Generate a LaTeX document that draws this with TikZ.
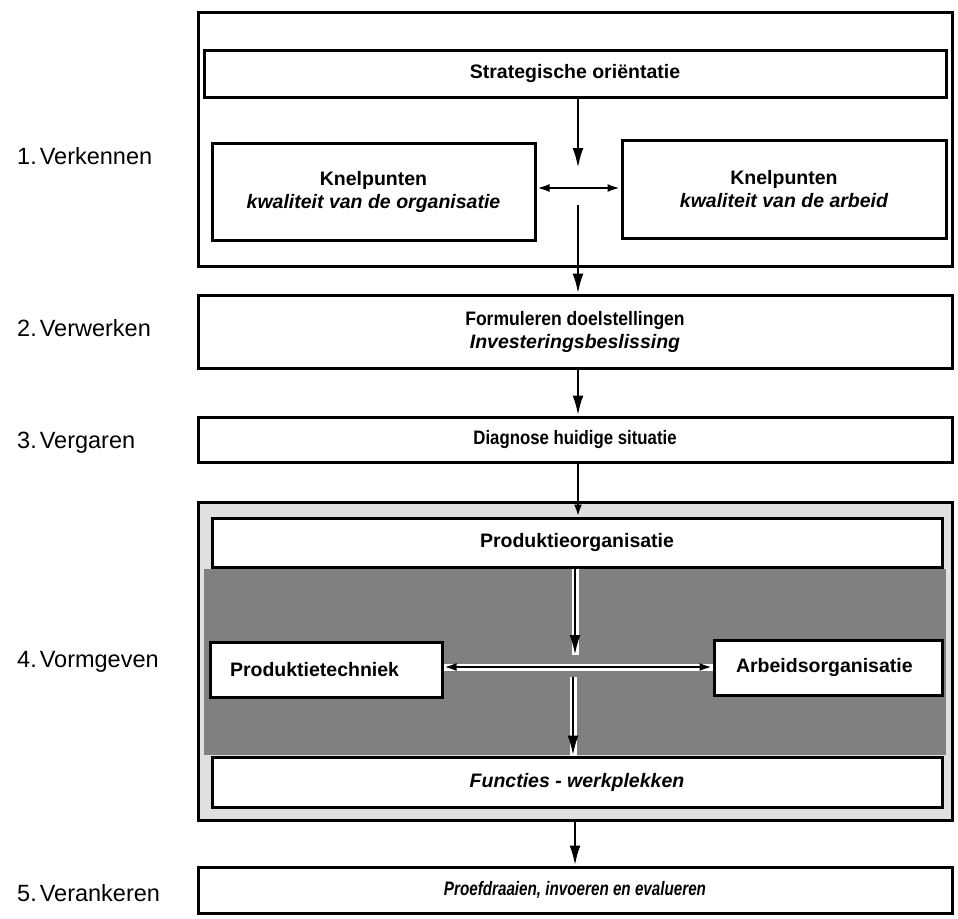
\documentclass[tikz,border=0pt]{standalone}
\usepackage{fontspec}
\setmainfont{Liberation Sans}
\usetikzlibrary{arrows.meta}
\tikzset{
  frame/.style={draw=black, line width=3pt, inner sep=0pt},
  box/.style={draw=black, line width=3pt, fill=white, inner sep=0pt, align=center,
    font=\fontsize{19.5}{23}\selectfont\bfseries},
  lbl/.style={anchor=west, inner sep=0pt, font=\fontsize{23.5}{27}\selectfont},
  arr/.style={line width=2.6pt, -{Latex[length=20pt,width=11pt]}},
  sarr/.style={line width=2.6pt, -{Latex[length=12pt,width=8pt]}},
  darr/.style={line width=2.6pt, {Latex[length=13pt,width=8pt]}-{Latex[length=13pt,width=8pt]}},
  halo/.style={preaction={draw=white, line width=7pt, -}}
}
\begin{document}
\begin{tikzpicture}[x=1pt,y=-1pt]
\useasboundingbox (0,0) rectangle (958,918);
% left labels
\node[lbl] (l1) at (17,156) {1.\kern3pt Verkennen};
\node[lbl] (l2) at (17,328) {2.\kern3pt Verwerken};
\node[lbl] (l3) at (17,443) {3.\kern3pt Vergaren};
\node[lbl] (l4) at (17,662) {4.\kern3pt Vormgeven};
\node[lbl] (l5) at (17,893) {5.\kern3pt Verankeren};
% phase 1
\node[frame, minimum width=754pt, minimum height=254pt] (frame1) at (575,139) {};
\node[box, minimum width=742pt, minimum height=47pt] (strat) at (575,73.5) {Strategische oriëntatie};
\node[box, minimum width=323pt, minimum height=97pt] (kL) at (373.5,191.5) {Knelpunten\\\itshape kwaliteit van de organisatie};
\node[box, minimum width=324pt, minimum height=98pt] (kR) at (784,189) {Knelpunten\\\itshape kwaliteit van de arbeid};
% phase 2, 3
\node[box, minimum width=754pt, minimum height=73pt] (form) at (575,331.5) {\scalebox{0.9}[1]{Formuleren doelstellingen}\\\itshape Investeringsbeslissing};
\node[box, minimum width=754pt, minimum height=45pt] (diag) at (575,439.5) {\scalebox{0.86}[1]{Diagnose huidige situatie}};
% phase 4
\node[frame, fill=black!12, minimum width=754pt, minimum height=318pt] (frame4) at (575,661) {};
\fill[black!50] (204,569) rectangle (946,755);
\node[box, minimum width=730pt, minimum height=49pt] (prodorg) at (577,542.5) {Produktieorganisatie};
\node[box, minimum width=232pt, minimum height=55pt, text width=232pt, align=left] (prodtech) at (326,669.5) {\hspace*{20pt}Produktietechniek};
\node[box, minimum width=228pt, minimum height=55pt, text width=228pt, align=left] (arbeid) at (828,667.5) {\hspace*{22pt}Arbeidsorganisatie};
\node[box, minimum width=730pt, minimum height=50pt] (func) at (577,782) {\itshape Functies - werkplekken};
% phase 5
\node[box, minimum width=754pt, minimum height=46pt] (fin) at (575,890) {\itshape\scalebox{0.78}[1]{Proefdraaien, invoeren en evalueren}};
% connectors
\coordinate (c1) at (578,168);
\coordinate (h1) at (0,188);
\coordinate (c2) at (578,205);
\coordinate (c3) at (575,655);
\coordinate (h2) at (0,667);
\coordinate (c4) at (573,677);
\draw[arr] (strat.south -| c1) -- (c1);
\draw[darr] (kL.east |- h1) -- (kR.west |- h1);
\draw[arr] (c2) -- (form.north -| c2);
\draw[arr] (form.south -| c2) -- (diag.north -| c2);
\draw[sarr] (diag.south -| c2) -- (prodorg.north -| c2);
\draw[arr, halo] (prodorg.south -| c3) -- (c3);
\draw[darr, halo] (prodtech.east |- h2) -- (arbeid.west |- h2);
\draw[arr, halo] (c4) -- (func.north -| c4);
\draw[arr] (frame4.south -| c3) -- (fin.north -| c3);
\end{tikzpicture}
\end{document}
